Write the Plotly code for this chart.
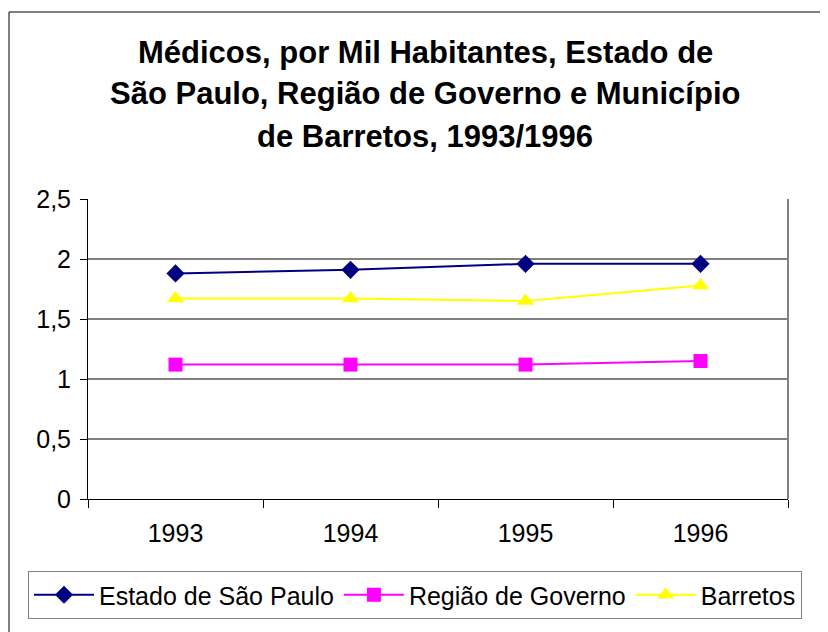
import plotly.graph_objects as go

years = ["1993", "1994", "1995", "1996"]
estado_sp = [1.88, 1.91, 1.96, 1.96]
regiao_governo = [1.12, 1.12, 1.12, 1.15]
barretos = [1.67, 1.67, 1.65, 1.78]
y_ticks = [0, 0.5, 1, 1.5, 2, 2.5]
y_tick_text = ["0", "0,5", "1", "1,5", "2", "2,5"]
title_lines = ["Médicos, por Mil Habitantes, Estado de",
               "São Paulo, Região de Governo e Município",
               "de Barretos, 1993/1996"]

FONT = "Liberation Sans, Arial, sans-serif"

# page offset (default body margin of the html page)
OFF = 8
W, H = 828 - OFF, 632 - OFF
# plot area in page pixels: x 88..788, y 199..499
L, T = 88 - OFF, 199 - OFF
pw, ph = 700, 300
R, B = W - L - pw, H - T - ph


def px_x(p):
    return (p - OFF - L) / pw


def px_y(p):
    return (T + ph - (p - OFF)) / ph


fig = go.Figure()
fig.add_trace(go.Scatter(x=years, y=estado_sp, name="Estado de São Paulo", mode="lines+markers",
                         line=dict(color="#000080", width=2),
                         marker=dict(symbol="diamond", size=14, color="#000080")))
fig.add_trace(go.Scatter(x=years, y=regiao_governo, name="Região de Governo", mode="lines+markers",
                         line=dict(color="#FF00FF", width=2),
                         marker=dict(symbol="square", size=14, color="#FF00FF")))
fig.add_trace(go.Scatter(x=years, y=barretos, name="Barretos", mode="lines+markers",
                         line=dict(color="#FFFF00", width=2),
                         marker=dict(symbol="triangle-up", size=15, color="#FFFF00")))

for i, line in enumerate(title_lines):
    fig.add_annotation(text="<b>" + line + "</b>", xref="paper", yref="paper",
                       x=px_x(425), y=px_y(52 + 42 * i), xanchor="center", yanchor="middle",
                       showarrow=False, font=dict(family=FONT, size=31, color="black"))

# outer chart border
fig.add_shape(type="rect", xref="paper", yref="paper",
              x0=px_x(9), x1=px_x(850), y0=px_y(660), y1=px_y(12),
              line=dict(color="black", width=1), fillcolor="rgba(0,0,0,0)", layer="below")
# plot area border (right side)
fig.add_shape(type="line", xref="paper", yref="paper", x0=1, x1=1, y0=0, y1=1,
              line=dict(color="#808080", width=2))

fig.update_layout(
    width=W, height=H,
    margin=dict(l=L, r=R, t=T, b=B),
    paper_bgcolor="white", plot_bgcolor="white",
    separators=",.",
    font=dict(family=FONT, size=25, color="black"),
    showlegend=True,
    legend=dict(orientation="h", x=px_x(28), y=px_y(571), xanchor="left", yanchor="top",
                bordercolor="#808080", borderwidth=1, bgcolor="white",
                font=dict(family=FONT, size=25, color="black"),
                itemwidth=60, tracegroupgap=0),
)
fig.update_xaxes(type="category", range=[-0.5, 3.5], showgrid=False,
                 showline=True, linecolor="black", linewidth=1,
                 ticks="outside", tickson="boundaries", ticklen=8, tickcolor="black",
                 ticklabelstandoff=12,
                 tickfont=dict(family=FONT, size=25), fixedrange=True)
fig.update_yaxes(range=[0, 2.5], tickvals=y_ticks, ticktext=y_tick_text,
                 showgrid=True, gridcolor="#808080", gridwidth=2,
                 showline=True, linecolor="black", linewidth=1,
                 ticks="outside", ticklen=7, tickcolor="black",
                 ticklabelstandoff=4,
                 tickfont=dict(family=FONT, size=25), zeroline=False, fixedrange=True)

fig.write_html("out.html")
